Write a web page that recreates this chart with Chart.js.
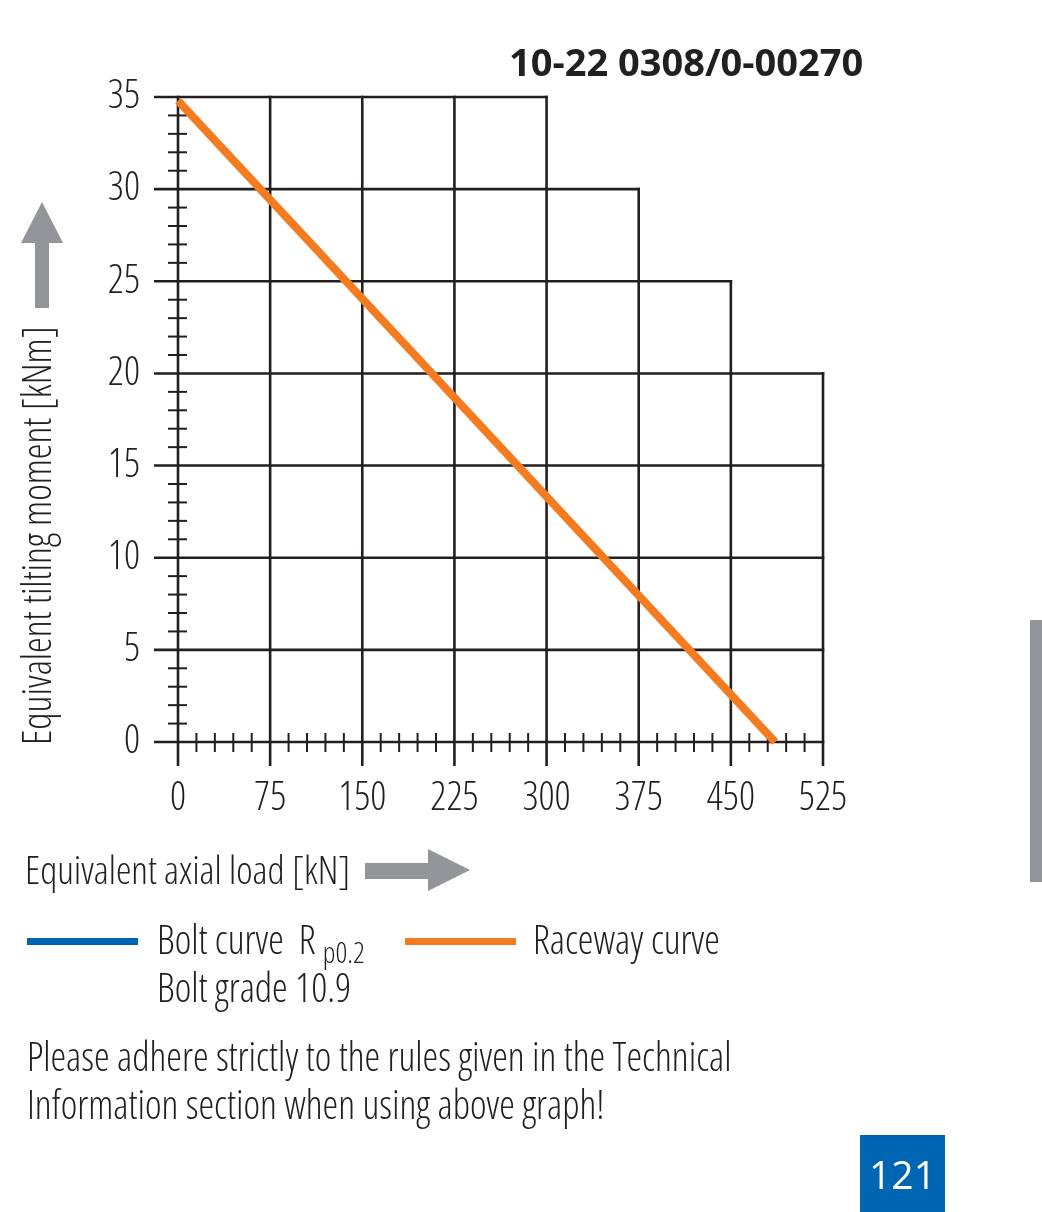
<!DOCTYPE html>
<html>
<head>
<meta charset="utf-8">
<script src="https://cdn.jsdelivr.net/npm/chart.js@4.4.1/dist/chart.umd.min.js"></script>
<style>
  html, body { margin:0; padding:0; background:#fff; }
  body { width:1042px; height:1212px; position:relative; overflow:hidden;
         font-family:'Open Sans',sans-serif; font-stretch:75%; font-weight:300; color:#231f20; }
  #wrap { position:absolute; left:0; top:0; width:1042px; height:1212px; }
  .t { position:absolute; white-space:nowrap; line-height:1; }
</style>
</head>
<body>
<div id="wrap"><canvas id="c"></canvas></div>

<div class="t" style="left:509px;top:42px;font-family:'Open Sans',sans-serif;font-stretch:100%;font-weight:700;font-size:38px;">10-22 0308/0-00270</div>

<div class="t" style="left:17px;top:745px;font-size:39.5px;transform-origin:0 0;transform:rotate(-90deg);">Equivalent tilting moment [kNm]</div>

<div class="t" style="left:25px;top:849px;font-size:39px;">Equivalent axial load [kN]</div>

<svg style="position:absolute;left:0;top:0;" width="1042" height="1212">
  <rect x="35" y="240" width="14" height="68" fill="#939598"/>
  <polygon points="21,243 42,202 63,243" fill="#939598"/>
  <rect x="365" y="863" width="66" height="16" fill="#939598"/>
  <polygon points="428,849 470,870 428,891" fill="#939598"/>
  <rect x="27" y="938" width="111" height="7" fill="#0066b3"/>
  <rect x="405" y="938" width="111" height="7" fill="#f47b20"/>
  <rect x="1030" y="620" width="12" height="262" fill="#939598"/>
  <rect x="860" y="1135" width="85" height="77" fill="#0066b3"/>
</svg>

<div class="t" style="left:157px;top:920px;font-size:39.5px;">Bolt curve&nbsp; R <span style="font-size:29px;position:relative;top:9px;">p0.2</span></div>
<div class="t" style="left:157px;top:968px;font-size:39.5px;">Bolt grade 10.9</div>
<div class="t" style="left:533px;top:920px;font-size:39.5px;">Raceway curve</div>

<div class="t" style="left:27px;top:1037px;font-size:39.5px;">Please adhere strictly to the rules given in the Technical</div>
<div class="t" style="left:27px;top:1085px;font-size:39.5px;">Information section when using above graph!</div>

<div class="t" style="left:860px;top:1135px;width:85px;height:77px;display:flex;align-items:center;justify-content:center;color:#fff;font-family:'Open Sans',sans-serif;font-stretch:100%;font-weight:400;font-size:39px;">121</div>

<script>
// ---- data ----
const xTickValues = [0, 75, 150, 225, 300, 375, 450, 525];
const yTickValues = [0, 5, 10, 15, 20, 25, 30, 35];
// stepped grid: horizontal line at each y tick runs to this x value
const gridRowEndX = [525, 525, 525, 525, 525, 450, 375, 300];
// vertical line at each x tick runs up to this y value
const gridColEndY = [35, 35, 35, 35, 35, 30, 25, 20];
const xMinorStep = 15;
const yMinorStep = 1;
// Raceway curve (equivalent axial load kN, tilting moment kNm)
const racewayLoad = [0, 486];
const racewayMoment = [34.8, 0];
// Bolt curve R p0.2, grade 10.9 (not visible within plotted range)
const boltLoad = [];
const boltMoment = [];

const FONT = "'Open Sans',sans-serif";
const INK = '#231f20';

const steppedGrid = {
  id: 'steppedGrid',
  beforeDatasetsDraw(chart) {
    const ctx = chart.ctx, xs = chart.scales.x, ys = chart.scales.y;
    const x0 = xs.getPixelForValue(0), y0 = ys.getPixelForValue(0);
    ctx.save();
    ctx.strokeStyle = INK;
    ctx.lineWidth = 2;
    for (let v = 0; v <= xs.max; v += xMinorStep) {
      if (xTickValues.includes(v)) continue;
      const p = xs.getPixelForValue(v);
      ctx.beginPath(); ctx.moveTo(p, y0 - 9); ctx.lineTo(p, y0 + 10); ctx.stroke();
    }
    for (let v = 0; v <= ys.max; v += yMinorStep) {
      if (yTickValues.includes(v)) continue;
      const p = ys.getPixelForValue(v);
      ctx.beginPath(); ctx.moveTo(x0 - 10, p); ctx.lineTo(x0 + 9, p); ctx.stroke();
    }
    ctx.lineWidth = 2.6;
    yTickValues.forEach((v, i) => {
      const p = ys.getPixelForValue(v);
      ctx.beginPath(); ctx.moveTo(x0 - 24, p); ctx.lineTo(xs.getPixelForValue(gridRowEndX[i]) + 1.3, p); ctx.stroke();
    });
    xTickValues.forEach((v, i) => {
      const p = xs.getPixelForValue(v);
      ctx.beginPath(); ctx.moveTo(p, y0 + 24); ctx.lineTo(p, ys.getPixelForValue(gridColEndY[i]) - 1.3); ctx.stroke();
    });
    ctx.restore();
  }
};

// condensed light tick labels (font-stretch passed through the weight slot of the font string)
const tickFont = { family: FONT, size: 39.5, weight: 'condensed 300' };

const chart = new Chart(document.getElementById('c'), {
  type: 'scatter',
  data: {
    datasets: [
      {
        label: 'Bolt curve R p0.2',
        data: boltLoad.map((x, i) => ({ x, y: boltMoment[i] })),
        showLine: true, borderColor: '#0066b3', borderWidth: 8, pointRadius: 0
      },
      {
        label: 'Raceway curve',
        data: racewayLoad.map((x, i) => ({ x, y: racewayMoment[i] })),
        showLine: true, borderColor: '#f47b20', borderWidth: 8, pointRadius: 0,
        borderCapStyle: 'butt', clip: false
      }
    ]
  },
  options: {
    responsive: true,
    maintainAspectRatio: false,
    animation: false,
    devicePixelRatio: 1,
    layout: { padding: { left: 0, top: 97, right: 219, bottom: 0 } },
    plugins: { legend: { display: false }, tooltip: { enabled: false } },
    scales: {
      x: {
        type: 'linear', min: 0, max: 525,
        afterBuildTicks: s => { s.ticks = xTickValues.map(v => ({ value: v })); },
        afterFit: s => { s.height = 470; },
        grid: { display: false, drawTicks: false },
        border: { display: false },
        ticks: { color: INK, padding: 33, font: tickFont, maxRotation: 0, autoSkip: false }
      },
      y: {
        type: 'linear', min: 0, max: 35,
        afterBuildTicks: s => { s.ticks = yTickValues.map(v => ({ value: v })); },
        afterFit: s => { s.width = 178; },
        grid: { display: false, drawTicks: false },
        border: { display: false },
        ticks: { color: INK, padding: 38, font: tickFont, autoSkip: false }
      }
    }
  },
  plugins: [steppedGrid]
});
</script>
</body>
</html>
